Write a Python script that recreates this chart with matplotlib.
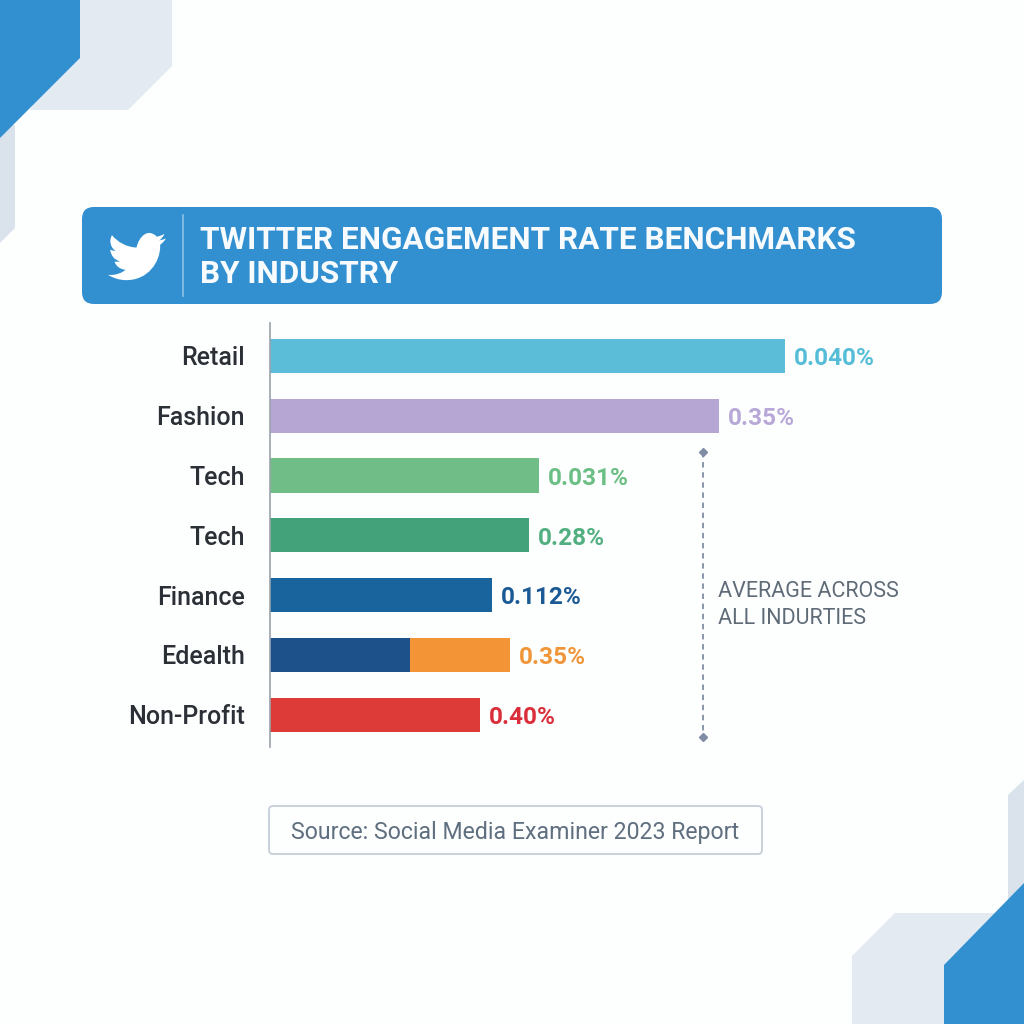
import matplotlib
matplotlib.use("Agg")
import matplotlib.pyplot as plt
from matplotlib.patches import Polygon, FancyBboxPatch, PathPatch
from matplotlib.path import Path

plt.rcParams['font.family'] = ['Roboto', 'DejaVu Sans']

title = "TWITTER ENGAGEMENT RATE BENCHMARKS\nBY INDUSTRY"
categories = ["Retail", "Fashion", "Tech", "Tech", "Finance", "Edealth", "Non-Profit"]
value_labels = ["0.040%", "0.35%", "0.031%", "0.28%", "0.112%", "0.35%", "0.40%"]
# bar lengths do not follow the printed labels, so they are read off the picture
bar_lengths = [515, 449, 269, 259, 222, 140, 210]
extra_lengths = [0, 0, 0, 0, 0, 100, 0]
bar_colors = ["#5BBDD7", "#B5A6D3", "#70BD87", "#43A27A", "#1A649E", "#1D5189", "#DC3B37"]
extra_colors = ["none", "none", "none", "none", "none", "#F39437", "none"]
label_colors = ["#55BDD8", "#B8A8D8", "#6BBF85", "#52B080", "#1C5A96", "#F0963A", "#DA2F3A"]
note = "AVERAGE ACROSS\nALL INDURTIES"
source = "Source: Social Media Examiner 2023 Report"

BLUE = "#3290D0"
LIGHT = "#E3EAF1"
LIGHT2 = "#DAE3EC"

fig = plt.figure(figsize=(10.24, 10.24), dpi=100, facecolor="#FDFEFE")

# background layer in pixel coords
bg = fig.add_axes([0, 0, 1, 1])
bg.set_xlim(0, 1024)
bg.set_ylim(1024, 0)
bg.axis("off")

bg.add_patch(Polygon([(0, 125), (15, 125), (15, 228), (0, 243)], fc=LIGHT2, ec="none"))
bg.add_patch(Polygon([(80, 0), (172, 0), (172, 66), (128, 110), (30, 110)], fc=LIGHT, ec="none"))
bg.add_patch(Polygon([(0, 0), (80, 0), (80, 58), (0, 138)], fc=BLUE, ec="none"))
bg.add_patch(Polygon([(1008, 795), (1024, 780), (1024, 885), (1008, 900)], fc=LIGHT2, ec="none"))
bg.add_patch(Polygon([(852, 1024), (852, 956), (895, 913), (1000, 913), (944, 1024)], fc=LIGHT, ec="none"))
bg.add_patch(Polygon([(944, 1024), (944, 965), (1024, 883), (1024, 1024)], fc=BLUE, ec="none"))

# header
bg.add_patch(FancyBboxPatch((94, 219), 836, 73, boxstyle="round,pad=12,rounding_size=12", fc=BLUE, ec="none"))
bg.plot([182.5, 182.5], [215, 296], color="#8FC2E6", lw=1.2)
bg.text(200, 257, title, color="#F7FBFE", fontsize=22.7, fontweight="bold", va="center", ha="left", linespacing=1.2)

# bird logo, simplified outline in 24x24 units
M, L, C3, C4 = Path.MOVETO, Path.LINETO, Path.CURVE3, Path.CURVE4
bird = [
    (M, 23.953, 4.57), (C3, 22.6, 5.1), (C3, 21.128, 5.345), (C3, 22.7, 4.4), (C3, 23.291, 2.622),
    (C4, 22.34, 3.177), (C4, 21.286, 3.581), (C4, 20.164, 3.806),
    (C4, 16.70, 0.15), (C4, 12.9, 3.39), (C4, 11.78, 8.288),
    (C4, 7.69, 8.095), (C4, 4.067, 6.13), (C4, 1.64, 3.162),
    (C3, 0.97, 4.3), (C3, 0.974, 5.637),
    (C4, 0.974, 7.347), (C4, 1.844, 8.85), (C4, 3.162, 9.733),
    (C3, 1.95, 9.68), (C3, 0.934, 9.117), (L, 0.934, 9.177),
    (C3, 1.3, 12.9), (C3, 4.88, 14.004), (C3, 3.8, 14.3), (C3, 2.668, 14.089),
    (C3, 3.7, 17.1), (C3, 7.272, 17.506), (C3, 4.6, 19.6), (C3, 1.17, 19.611),
    (C4, 0.78, 19.611), (C4, 0.391, 19.588), (C4, 0, 19.544),
    (C3, 3.5, 21.753), (C3, 7.557, 21.753),
    (C4, 16.61, 21.753), (C4, 21.555, 14.257), (C4, 21.555, 7.768),
    (C4, 21.555, 7.558), (C4, 21.555, 7.348), (C4, 21.54, 7.138),
    (C3, 23.0, 6.1), (C3, 23.953, 4.57), (Path.CLOSEPOLY, 23.953, 4.57),
]
sc = 2.42
verts = [(108 + p[1] * sc, 227.5 + p[2] * sc) for p in bird]
codes = [p[0] for p in bird]
bg.add_patch(PathPatch(Path(verts, codes), fc="white", ec="none"))

# bar chart
ax = fig.add_axes([270 / 1024, 1 - 747 / 1024, 672 / 1024, 424 / 1024])
ax.patch.set_alpha(0)
ax.set_xlim(0, 672)
ax.set_ylim(6.54, -0.55)
y = list(range(len(categories)))
ax.barh(y, bar_lengths, height=0.57, color=bar_colors)
ax.barh(y, extra_lengths, left=bar_lengths, height=0.57, color=extra_colors)
for i in y:
    ax.annotate(value_labels[i], (bar_lengths[i] + extra_lengths[i], i), xytext=(6.5, -2),
                textcoords="offset points", va="center", ha="left",
                color=label_colors[i], fontsize=17.6, fontweight="bold")
ax.set_yticks(y)
ax.set_yticklabels(categories, fontsize=18, color="#2B2F36", fontweight="medium")
ax.tick_params(axis="y", length=0, pad=18)
ax.set_xticks([])
for s in ["top", "right", "bottom"]:
    ax.spines[s].set_visible(False)
ax.spines["left"].set_color("#9AA2AC")
ax.spines["left"].set_linewidth(1.2)

# average bracket
bg.plot([703, 703], [452, 737], color="#7F8CA3", lw=1.3, ls=(0, (3, 2.6)))
bg.plot([703, 703], [452, 737], ls="none", marker="D", ms=4, color="#7F8CA3")
bg.text(718, 605, note, color="#5F6C78", fontsize=15.5, va="center", ha="left", linespacing=1.4)

# source box
bg.add_patch(FancyBboxPatch((273, 810), 485, 40, boxstyle="round,pad=4,rounding_size=4", fc="#FDFEFE", ec="#C5CED8", lw=1.3))
bg.text(515, 832, source, color="#5F6F7F", fontsize=16.7, va="center", ha="center")

fig.savefig("out.png", dpi=100, facecolor=fig.get_facecolor())
